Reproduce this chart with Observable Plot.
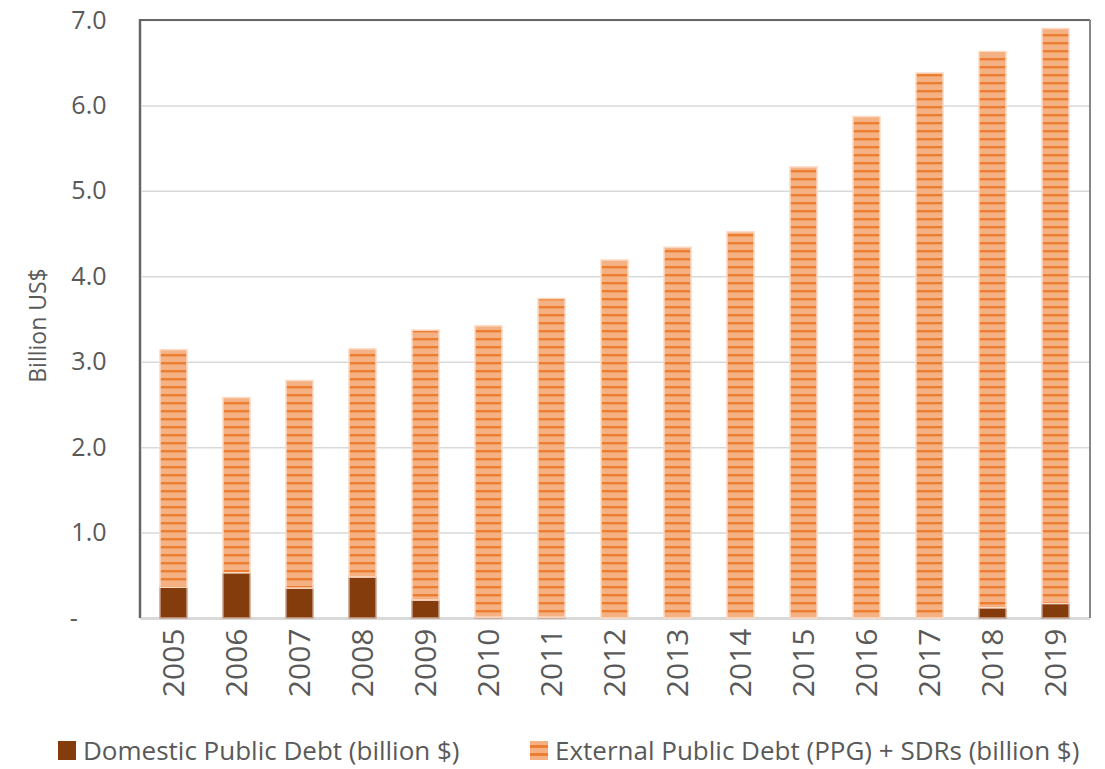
<!DOCTYPE html>
<html><head><meta charset="utf-8">
<script src="https://cdn.jsdelivr.net/npm/d3@7"></script>
<script src="https://cdn.jsdelivr.net/npm/@observablehq/plot@0.6"></script>
<style>
body{margin:0;background:#fff;font-family:"Open Sans",Lato,sans-serif;}
#chart svg{display:block;}
#legend{position:relative;height:49px;font-size:26px;color:#595959;}
.item{position:absolute;top:17px;height:26px;display:flex;align-items:center;white-space:nowrap;}
.sw{width:18px;height:19px;margin-right:7px;}
</style></head><body>
<div id="chart"></div>
<div id="legend"></div>
<script>
const years = ["2005","2006","2007","2008","2009","2010","2011","2012","2013","2014","2015","2016","2017","2018","2019"];
const domestic = [0.36,0.53,0.35,0.48,0.21,0.01,0.01,0,0,0,0,0,0,0.12,0.17];
const external = [2.78,2.05,2.43,2.67,3.16,3.41,3.73,4.19,4.34,4.52,5.28,5.87,6.38,6.51,6.73];
const seriesNames = ["Domestic Public Debt (billion $)","External Public Debt (PPG) + SDRs (billion $)"];
const seriesColors = ["#843C0C","url(#extstripes)"];
const yTicks = [0,1,2,3,4,5,6,7];
const yTickLabels = ["-\u2007\u2007","1.0","2.0","3.0","4.0","5.0","6.0","7.0"];

const rows = [];
years.forEach((y,i)=>{
  rows.push({year:y, series:seriesNames[0], value:domestic[i]});
  rows.push({year:y, series:seriesNames[1], value:external[i]});
});

const defs = () => {
  const ns = "http://www.w3.org/2000/svg";
  const d = document.createElementNS(ns,"defs");
  d.innerHTML = `<pattern id="extstripes" patternUnits="userSpaceOnUse" width="8" height="8" y="2">
     <rect width="8" height="8" fill="#F4B183"/>
     <rect y="0" width="8" height="2.4" fill="#ED7D31"/>
   </pattern>`;
  return d;
};

const frameSides = (index, scales, values, dim) => {
  const ns = "http://www.w3.org/2000/svg";
  const g = document.createElementNS(ns,"g");
  const l = dim.marginLeft, r = dim.width - dim.marginRight, t = dim.marginTop, b = dim.height - dim.marginBottom;
  g.innerHTML = `<line x1="${l}" x2="${l}" y1="${t-1}" y2="${b}" stroke="#d9d9d9" stroke-width="4"/>
    <line x1="${l}" x2="${l}" y1="${t-1}" y2="${b}" stroke="#666" stroke-width="2"/>
    <line x1="${l}" x2="${r}" y1="${t}" y2="${t}" stroke="#666" stroke-width="2"/>
    <line x1="${r}" x2="${r}" y1="${t}" y2="${b}" stroke="#888" stroke-width="2"/>`;
  return g;
};

const chart = Plot.plot({
  width: 1105,
  height: 720,
  marginLeft: 140,
  marginRight: 15,
  marginTop: 20,
  marginBottom: 102,
  style: {fontFamily: "'Open Sans', Lato, sans-serif", fontSize: "20px", color: "#595959", background: "#fff"},
  x: {domain: years, paddingInner: 0.57, paddingOuter: 0.285, label: null},
  y: {domain: [0,7], label: null},
  color: {type: "identity"},
  marks: [
    defs,
    Plot.gridY(yTicks, {stroke: "#d9d9d9", strokeOpacity: 1, strokeWidth: 1.5}),
    Plot.ruleY([0], {stroke: "#d9d9d9", strokeWidth: 3}),
    Plot.barY(rows, Plot.stackY({
      x: "year", y: "value", z: "series", order: seriesNames,
      fill: d => seriesColors[seriesNames.indexOf(d.series)],
      stroke: d => d.series === seriesNames[0] ? "#c9a08a" : "#fbd9c2",
      strokeWidth: 1.5
    })),
    frameSides,
    Plot.axisY(yTicks, {tickSize: 0, tickPadding: 34, tickFormat: (d,i) => yTickLabels[yTicks.indexOf(d)], fontSize: 25, fill: "#595959", label: null}),
    Plot.axisX({tickSize: 0, tickPadding: 10, tickRotate: -90, fontSize: 30, fill: "#595959", label: null}),
    Plot.text(["Billion US$"], {frameAnchor: "left", textAnchor: "middle", dx: -102, dy: 6, rotate: -90, fontSize: 23, fill: "#595959"})
  ]
});
document.getElementById("chart").appendChild(chart);

const legend = document.getElementById("legend");
const pos = [58, 530];
const swatchStyles = ["background:#843C0C", "background:repeating-linear-gradient(to bottom,#F4B183 0 4px,#ED7D31 4px 7px,#F4B183 7px 12px,#ED7D31 12px 15px,#F4B183 15px 19px)"];
seriesNames.forEach((n,i)=>{
  const it = document.createElement("div");
  it.className = "item";
  it.style.left = pos[i] + "px";
  it.innerHTML = `<span class="sw" style="${swatchStyles[i]}"></span><span>${n}</span>`;
  legend.appendChild(it);
});
</script>
</body></html>
